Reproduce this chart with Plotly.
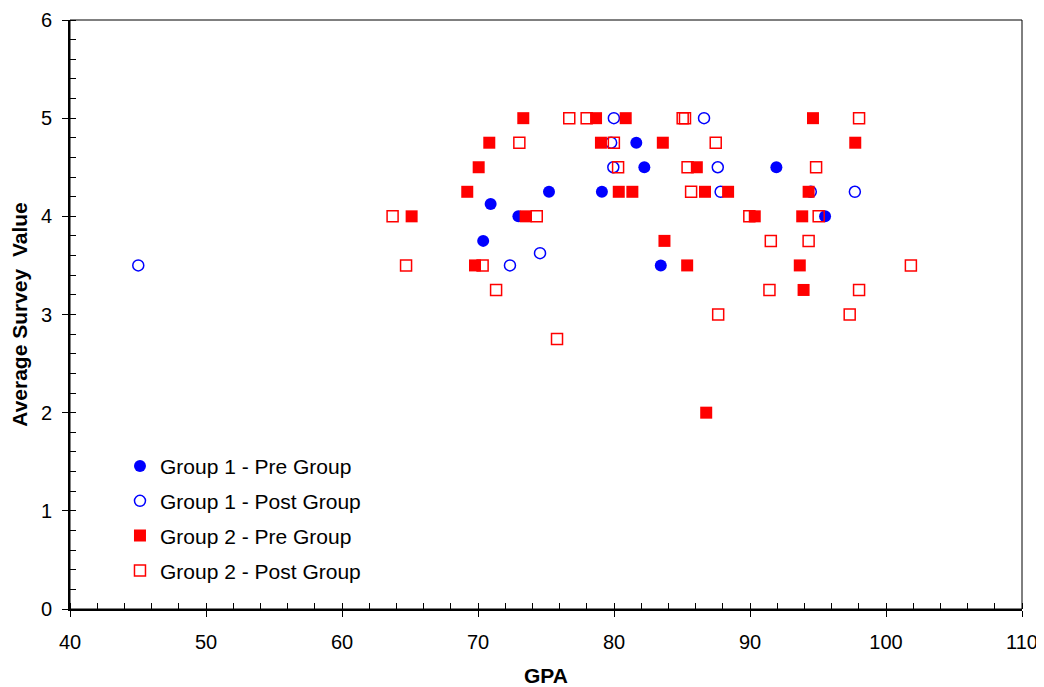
import plotly.graph_objects as go

# Group 1 - Pre Group (filled blue circles)
g1_pre_gpa = [70.38, 70.93, 72.97, 75.22, 79.11, 81.64, 82.23, 83.44, 91.94, 95.52]
g1_pre_val = [3.75, 4.125, 4.0, 4.25, 4.25, 4.75, 4.5, 3.5, 4.5, 4.0]

# Group 1 - Post Group (open blue circles)
g1_post_gpa = [45.02, 74.56, 72.35, 79.99, 86.62, 79.79, 79.95, 87.63, 87.84, 94.47, 97.71]
g1_post_val = [3.5, 3.625, 3.5, 5.0, 5.0, 4.75, 4.5, 4.5, 4.25, 4.25, 4.25]

# Group 2 - Pre Group (filled red squares)
g2_pre_gpa = [65.12, 69.21, 69.78, 70.05, 70.83, 73.33, 73.50, 78.68, 79.04, 80.35,
              80.86, 81.35, 83.59, 83.71, 85.38, 86.09, 86.69, 86.78, 88.39, 90.35,
              93.66, 93.84, 93.94, 94.31, 94.63, 97.74]
g2_pre_val = [4.0, 4.25, 3.5, 4.5, 4.75, 5.0, 4.0, 5.0, 4.75, 4.25,
              5.0, 4.25, 4.75, 3.75, 3.5, 4.5, 4.25, 2.0, 4.25, 4.0,
              3.5, 4.0, 3.25, 4.25, 5.0, 4.75]

# Group 2 - Post Group (open red squares)
g2_post_gpa = [63.72, 64.71, 70.34, 71.33, 73.04, 74.32, 75.81, 76.71, 77.99, 79.99,
               80.30, 85.05, 85.22, 85.41, 85.67, 87.48, 87.66, 89.95, 91.53, 91.43,
               94.31, 94.86, 95.05, 97.33, 98.02, 98.02, 101.83]
g2_post_val = [4.0, 3.5, 3.5, 3.25, 4.75, 4.0, 2.75, 5.0, 5.0, 4.75,
               4.5, 5.0, 5.0, 4.5, 4.25, 4.75, 3.0, 4.0, 3.75, 3.25,
               3.75, 4.5, 4.0, 3.0, 5.0, 3.25, 3.5]

x_ticks = [40, 50, 60, 70, 80, 90, 100, 110]
y_ticks = [0, 1, 2, 3, 4, 5, 6]

BLUE = "#0000FF"
RED = "#FF0000"
FONT = "Liberation Sans, Arial, sans-serif"

fig = go.Figure()
fig.add_trace(go.Scatter(x=g1_pre_gpa, y=g1_pre_val, mode="markers", name="Group 1 - Pre Group",
                         legendgroup="a",
                         marker=dict(symbol="circle", size=12, color=BLUE, line=dict(width=0))))
fig.add_trace(go.Scatter(x=g1_post_gpa, y=g1_post_val, mode="markers", name="Group 1 - Post Group",
                         legendgroup="b",
                         marker=dict(symbol="circle-open", size=11, color=BLUE, line=dict(width=1.5, color=BLUE))))
fig.add_trace(go.Scatter(x=g2_pre_gpa, y=g2_pre_val, mode="markers", name="Group 2 - Pre Group",
                         legendgroup="c",
                         marker=dict(symbol="square", size=12, color=RED, line=dict(width=0))))
fig.add_trace(go.Scatter(x=g2_post_gpa, y=g2_post_val, mode="markers", name="Group 2 - Post Group",
                         legendgroup="d",
                         marker=dict(symbol="square-open", size=11, color=RED, line=dict(width=1.5, color=RED))))
# empty trace so the overlay axes (inner halves of the major ticks) are drawn
fig.add_trace(go.Scatter(x=[], y=[], xaxis="x2", yaxis="y2", showlegend=False, hoverinfo="skip"))

axis_common = dict(showgrid=False, zeroline=False, tickcolor="black", tickwidth=1)

fig.update_layout(
    width=1036, height=679,
    margin=dict(l=62, r=22, t=11.5, b=78, autoexpand=False),
    paper_bgcolor="white", plot_bgcolor="white",
    font=dict(family=FONT, size=20, color="black"),
    showlegend=True,
    legend=dict(x=0.0525, y=0.277, xanchor="left", yanchor="top",
                bgcolor="rgba(0,0,0,0)", font=dict(size=21, family=FONT),
                traceorder="grouped", tracegroupgap=4.5),
    xaxis=dict(range=[40, 110], tickvals=x_ticks, ticktext=[str(v) for v in x_ticks],
               showline=True, linecolor="black", linewidth=2,
               ticks="outside", ticklen=6, ticklabelstandoff=8, ticklabeloverflow="allow",
               minor=dict(dtick=2, ticks="inside", ticklen=6, tickwidth=1, tickcolor="black", showgrid=False),
               tickfont=dict(size=20, family=FONT),
               title=dict(text="<b>GPA</b>", font=dict(size=21, family=FONT), standoff=16),
               **axis_common),
    yaxis=dict(range=[0, 6], tickvals=y_ticks, ticktext=[str(v) for v in y_ticks],
               showline=True, linecolor="black", linewidth=2,
               ticks="outside", ticklen=6, ticklabelstandoff=6,
               minor=dict(dtick=0.2, ticks="inside", ticklen=6, tickwidth=1, tickcolor="black", showgrid=False),
               tickfont=dict(size=20, family=FONT),
               title=dict(text="<b>Average Survey  Value</b>", font=dict(size=21, family=FONT), standoff=13),
               **axis_common),
    xaxis2=dict(range=[40, 110], overlaying="x", anchor="y2", side="bottom", tickvals=x_ticks,
                ticks="inside", ticklen=6, showticklabels=False, showline=False, **axis_common),
    yaxis2=dict(range=[0, 6], overlaying="y", anchor="x2", side="left", tickvals=y_ticks,
                ticks="inside", ticklen=6, showticklabels=False, showline=False, **axis_common),
    shapes=[dict(type="rect", xref="paper", yref="paper", x0=0, y0=0, x1=1, y1=1,
                 line=dict(color="black", width=1), layer="above")],
)

fig.write_html("out.html")
